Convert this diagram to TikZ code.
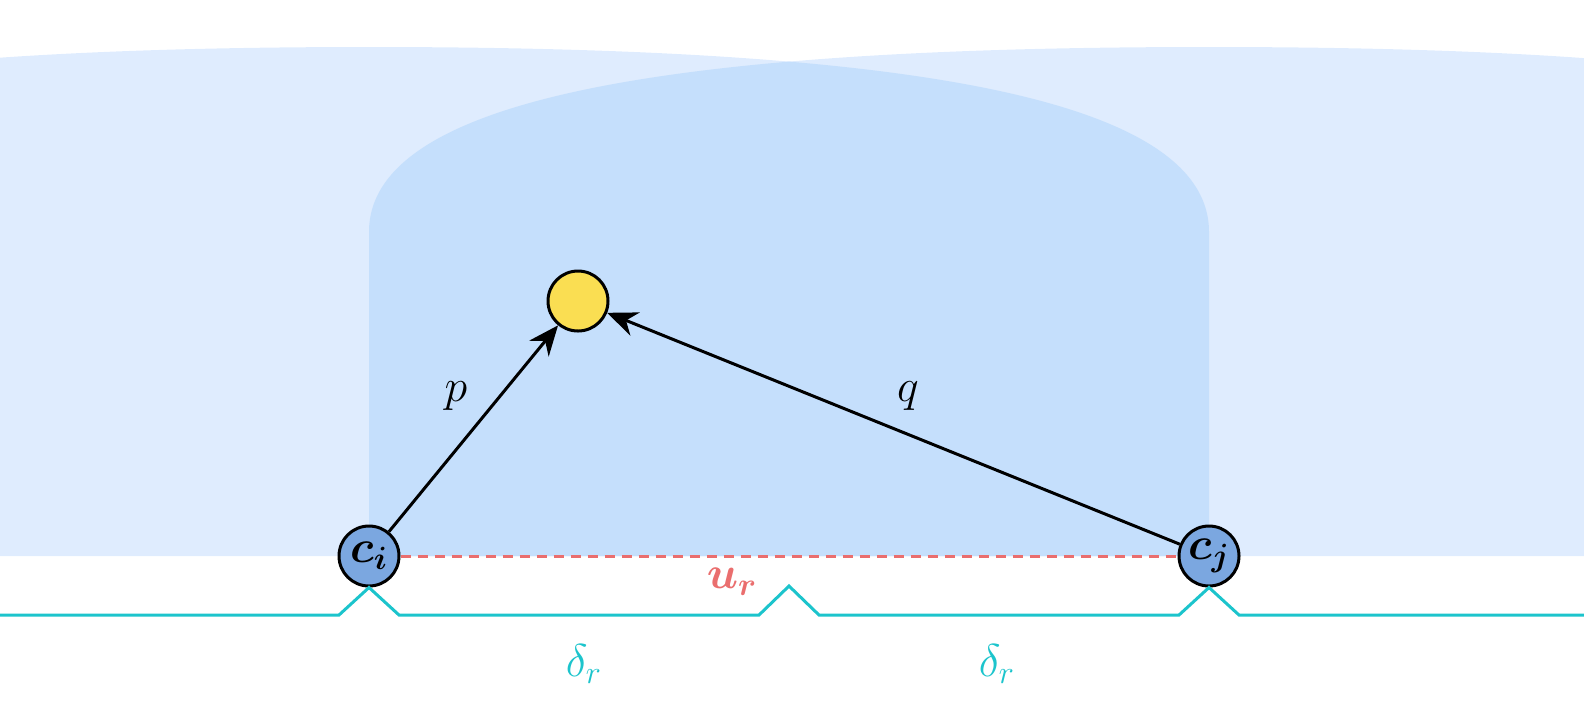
\documentclass[tikz,border=0pt]{standalone}
\usepackage{fix-cm}
\usepackage{amsmath}
\usepackage{bm}
\usetikzlibrary{arrows.meta}
\definecolor{regionlight}{RGB}{223,236,254}
\definecolor{regiondark}{RGB}{197,223,252}
\definecolor{nodeblue}{RGB}{123,167,224}
\definecolor{nodeyellow}{RGB}{250,222,82}
\definecolor{dashred}{RGB}{234,110,110}
\definecolor{cyanline}{RGB}{28,196,204}
\begin{document}
\begin{tikzpicture}[x=0.5pt,y=-0.5pt,
  centre/.style={circle,draw=black,line width=1.5pt,minimum size=30pt,inner sep=0pt,font=\fontsize{23}{27}\selectfont},
  lbl/.style={inner sep=0pt,font=\fontsize{23}{27}\selectfont},
  arr/.style={line width=1.5pt,-{Stealth[length=15pt,width=12.5pt]}},
  dashline/.style={dashred,line width=1.5pt,dash pattern=on 5pt off 3.5pt},
  cyanpath/.style={cyanline,line width=1.5pt}]
\useasboundingbox (0,0) rectangle (1584,720);
\begin{scope}
  \clip (0,0) rectangle (1584,720);
  % left region
  \fill[regionlight] (-471,556) -- (-471,232) .. controls (-471,90) and (-131,47) .. (369,47)
     .. controls (869,47) and (1209,90) .. (1209,232) -- (1209,556) -- cycle;
  % right region
  \fill[regionlight] (369,556) -- (369,232) .. controls (369,90) and (709,47) .. (1209,47)
     .. controls (1709,47) and (2049,90) .. (2049,232) -- (2049,556) -- cycle;
  % overlap
  \begin{scope}
    \clip (-471,556) -- (-471,232) .. controls (-471,90) and (-131,47) .. (369,47)
     .. controls (869,47) and (1209,90) .. (1209,232) -- (1209,556) -- cycle;
    \fill[regiondark] (369,556) -- (369,232) .. controls (369,90) and (709,47) .. (1209,47)
     .. controls (1709,47) and (2049,90) .. (2049,232) -- (2049,556) -- cycle;
  \end{scope}
\end{scope}

\node[centre,fill=nodeblue] (ci) at (369,556) {$\bm{c_i}$};
\node[centre,fill=nodeblue] (cj) at (1209,556) {$\bm{c_j}$};
\node[centre,fill=nodeyellow] (x) at (578,301) {};

\draw[dashline] (ci.east) -- (cj.west);
\draw[arr] (ci) -- (x);
\draw[arr] (cj) -- (x);

\draw[cyanpath] (0,615) -- (339,615) -- (ci.south) -- (399,615) -- (759,615) -- (789,586)
  -- (819,615) -- (1179,615) -- (cj.south) -- (1239,615) -- (1584,615);

\node[lbl] (p) at (456,396) {$p$};
\node[lbl] (q) at (908,396) {$q$};
\node[lbl,text=dashred] (ur) at (732,582) {$\bm{u_r}$};
\node[lbl,text=cyanline] (d1) at (584,664) {$\delta_r$};
\node[lbl,text=cyanline] (d2) at (997,664) {$\delta_r$};
\end{tikzpicture}
\end{document}
